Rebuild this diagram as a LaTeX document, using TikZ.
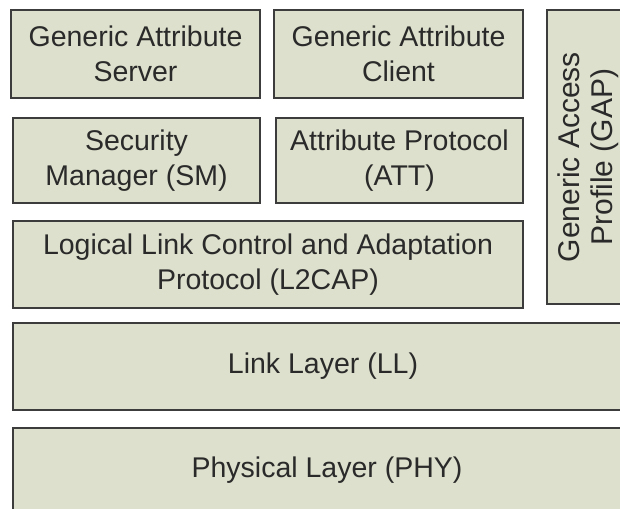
\documentclass[tikz,border=0pt]{standalone}
\usepackage{fontspec}
\setmainfont{Liberation Sans}
\definecolor{layerfill}{HTML}{DDE0CC}
\definecolor{layerline}{HTML}{3C3C3C}
\definecolor{layertext}{HTML}{2A2A2A}
\begin{document}
\begin{tikzpicture}[x=1pt, y=-1pt,
  layer/.style={draw=layerline, line width=1.8pt, fill=layerfill,
    text=layertext, align=center, inner sep=0pt,
    font=\fontsize{28.5}{35}\selectfont}]
\useasboundingbox (0,0) rectangle (620,508);
\clip (0,0) rectangle (620,508);

% upper protocol blocks
\node[layer, minimum width=249pt, minimum height=88pt] (gas) at (135.5,54)
  {Generic Attribute\\Server};
\node[layer, minimum width=249pt, minimum height=88pt] (gac) at (398.5,54)
  {Generic Attribute\\Client};
\node[layer, minimum width=247pt, minimum height=85pt] (sm) at (136.5,160.5)
  {Security\\Manager (SM)};
\node[layer, minimum width=247pt, minimum height=85pt] (att) at (399.5,160.5)
  {Attribute Protocol\\(ATT)};
\node[layer, minimum width=510pt, minimum height=87pt] (l2cap) at (268,264.5)
  {Logical Link Control and Adaptation\\Protocol (L2CAP)};

% vertical profile block
\node[layer, rotate=90, minimum width=294pt, minimum height=82pt,
  font=\fontsize{30}{32.5}\selectfont] (gap) at (588,157)
  {Generic Access\\Profile (GAP)};

% lower layers spanning the full width
\node[layer, minimum width=620pt, minimum height=87pt] (ll) at (323,366.5)
  {Link Layer (LL)};
\node[layer, minimum width=628pt, minimum height=84pt] (phy) at (327,470)
  {Physical Layer (PHY)};
\end{tikzpicture}
\end{document}
